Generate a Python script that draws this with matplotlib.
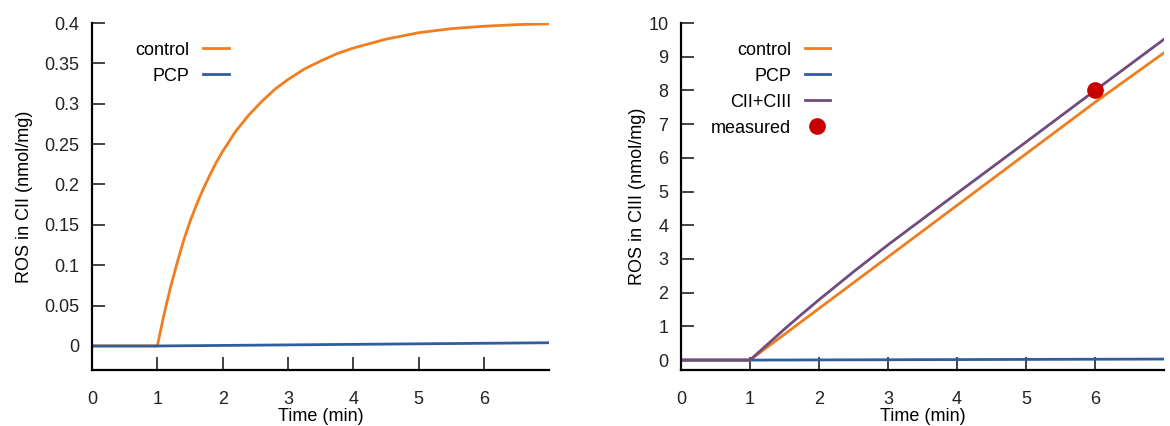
import numpy as np
import matplotlib
matplotlib.use("Agg")
import matplotlib.pyplot as plt

plt.rcParams['font.family'] = ['Liberation Sans', 'DejaVu Sans']

# Left panel: ROS in complex II
t_cii = [0, 1, 1.1, 1.2, 1.3, 1.4, 1.5, 1.6, 1.7, 1.8, 1.9, 2.0, 2.2, 2.4, 2.6,
         2.8, 3.0, 3.25, 3.5, 3.75, 4.0, 4.5, 5.0, 5.5, 6.0, 6.5, 7.0]
control_cii = [0, 0, 0.038, 0.072, 0.102, 0.130, 0.154, 0.175, 0.194, 0.211,
               0.227, 0.241, 0.266, 0.286, 0.303, 0.318, 0.330, 0.343, 0.353,
               0.362, 0.369, 0.380, 0.388, 0.393, 0.396, 0.398, 0.399]
t_pcp_cii = [0, 1, 7]
pcp_cii = [0, 0, 0.004]

# Right panel: ROS in complex III
t_ciii = [0, 1, 2, 3, 4, 5, 6, 7]
control_ciii = [0, 0, 1.53, 3.06, 4.59, 6.12, 7.65, 9.12]
pcp_ciii = [0, 0, 0.005, 0.01, 0.015, 0.02, 0.025, 0.03]
t_sum = [0, 1, 1.25, 1.5, 1.75, 2, 2.5, 3, 4, 5, 6, 7]
sum_ciii = [0, 0, 0.46, 0.92, 1.36, 1.79, 2.62, 3.42, 4.95, 6.47, 8.0, 9.52]
measured_t = [6]
measured_v = [8.0]

c_orange = '#F07D1E'
c_blue = '#2F5E9E'
c_purple = '#6E4C7E'
c_red = '#C80000'

fs = 13

fig = plt.figure(figsize=(11.7, 4.26), dpi=100)
ax1 = fig.add_axes([0.0786, 0.131, 0.391, 0.815])
ax2 = fig.add_axes([0.582, 0.131, 0.413, 0.815])


def style(ax):
    ax.spines['top'].set_visible(False)
    ax.spines['right'].set_visible(False)
    ax.spines['left'].set_linewidth(1.6)
    ax.spines['bottom'].set_linewidth(1.6)
    ax.tick_params(direction='in', length=9.5, width=1.2, labelsize=fs, colors='#222222')
    ax.tick_params(axis='x', pad=15)
    ax.tick_params(axis='y', pad=9)
    ax.set_xlim(0, 7)
    ax.set_xticks(range(0, 7))
    ax.set_xlabel('Time (min)', fontsize=fs, labelpad=0)


def add_legend(ax, x):
    ax.legend(loc='upper right', bbox_to_anchor=(x, 0.993), frameon=False,
              markerfirst=False, fontsize=fs, handlelength=1.4, handletextpad=0.75,
              labelspacing=0.5)


ax1.plot(t_cii, control_cii, color=c_orange, lw=2, label='control')
ax1.plot(t_pcp_cii, pcp_cii, color=c_blue, lw=2, label='PCP')
ax1.set_ylim(-0.03, 0.4)
ax1.set_yticks([0, 0.05, 0.1, 0.15, 0.2, 0.25, 0.3, 0.35, 0.4])
ax1.set_yticklabels(['0', '0.05', '0.1', '0.15', '0.2', '0.25', '0.3', '0.35', '0.4'])
ax1.set_ylabel('ROS in CII (nmol/mg)', fontsize=fs, labelpad=8)
style(ax1)
add_legend(ax1, 0.334)

ax2.plot(t_ciii, control_ciii, color=c_orange, lw=2, label='control')
ax2.plot(t_ciii, pcp_ciii, color=c_blue, lw=2, label='PCP')
ax2.plot(t_sum, sum_ciii, color=c_purple, lw=2, label='CII+CIII')
ax2.plot(measured_t, measured_v, 'o', color=c_red, ms=11, label='measured', zorder=5)
ax2.set_ylim(-0.3, 10)
ax2.set_yticks(range(0, 11))
ax2.set_ylabel('ROS in CIII (nmol/mg)', fontsize=fs, labelpad=2)
style(ax2)
add_legend(ax2, 0.342)

fig.savefig('out.png', dpi=100)
